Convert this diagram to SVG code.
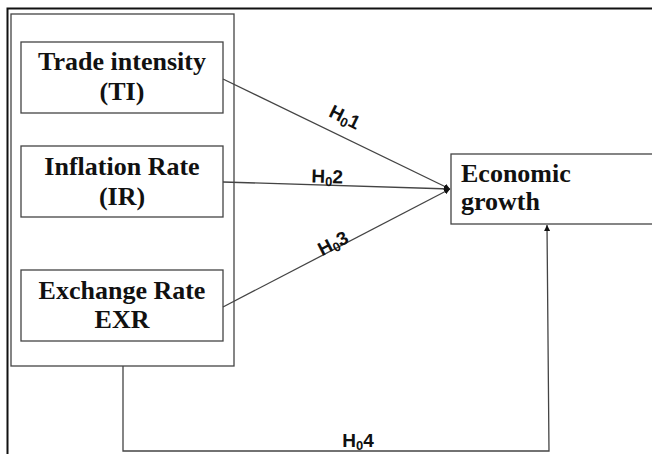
<svg xmlns="http://www.w3.org/2000/svg" width="652" height="454" viewBox="0 0 652 454">
<style>
.box{fill:#fff;stroke:#444;stroke-width:1.3}
.t{font-family:"Liberation Serif","Times New Roman",serif;font-weight:bold;font-size:26px;fill:#111}
.lbl{font-family:"Liberation Sans",Arial,sans-serif;font-size:19px;font-weight:bold;fill:#111}
.c{fill:none;stroke:#444;stroke-width:1.3}
.sub{font-size:13px}
</style>
<defs>
<marker id="ah" viewBox="0 0 10 10" refX="10" refY="5" markerWidth="6" markerHeight="6" orient="auto" markerUnits="userSpaceOnUse">
<path d="M0,0 L10,5 L0,10 z" fill="#111"/>
</marker>
</defs>
<rect x="0" y="0" width="652" height="454" fill="#fff"/>
<path d="M7.5,454 V8.5 H652" fill="none" stroke="#111" stroke-width="2"/>
<g id="group">
<rect class="box" x="11" y="14" width="223" height="352"/>
</g>
<g id="ti">
<rect class="box" x="21" y="42" width="202" height="71"/>
<text class="t" x="122" y="70" text-anchor="middle">Trade intensity</text>
<text class="t" x="122" y="100" text-anchor="middle">(TI)</text>
</g>
<g id="ir">
<rect class="box" x="21" y="146" width="202" height="71"/>
<text class="t" x="122" y="175" text-anchor="middle">Inflation Rate</text>
<text class="t" x="122" y="205" text-anchor="middle">(IR)</text>
</g>
<g id="exr">
<rect class="box" x="21" y="270" width="202" height="71"/>
<text class="t" x="122" y="299" text-anchor="middle">Exchange Rate</text>
<text class="t" x="122" y="328" text-anchor="middle">EXR</text>
</g>
<g id="eg">
<rect class="box" x="451" y="154" width="210" height="70"/>
<text class="t" x="461" y="182">Economic</text>
<text class="t" x="461" y="210">growth</text>
</g>
<g id="connectors">
<path class="c" d="M223,79 L450,189" marker-end="url(#ah)"/>
<path class="c" d="M223,182 L450,189" marker-end="url(#ah)"/>
<path class="c" d="M223,307 L450,189" marker-end="url(#ah)"/>
<path class="c" d="M123,366 V451 H549 L547,225" marker-end="url(#ah)"/>
<text class="lbl" transform="translate(342,123) rotate(26)" text-anchor="middle">H<tspan class="sub" dy="3">0</tspan><tspan dy="-3">1</tspan></text>
<text class="lbl" transform="translate(327,183) rotate(1.5)" text-anchor="middle">H<tspan class="sub" dy="3">0</tspan><tspan dy="-3">2</tspan></text>
<text class="lbl" transform="translate(336,249) rotate(-27)" text-anchor="middle">H<tspan class="sub" dy="3">0</tspan><tspan dy="-3">3</tspan></text>
<text class="lbl" x="358" y="447" text-anchor="middle">H<tspan class="sub" dy="3">0</tspan><tspan dy="-3">4</tspan></text>
</g>
</svg>
